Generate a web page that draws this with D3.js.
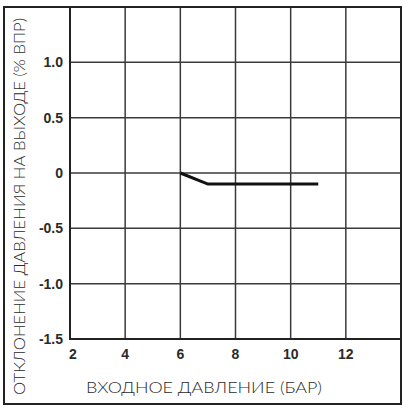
<!DOCTYPE html>
<html>
<head>
<meta charset="utf-8">
<script src="https://cdn.jsdelivr.net/npm/d3@7"></script>
<style>
  html, body { margin: 0; padding: 0; background: #fff; }
</style>
</head>
<body>
<div id="chart-region"></div>
<script>
const W = 405, H = 411;
const PLOT = {LEFT: 70, RIGHT: 401, TOP: 7, BOTTOM: 339};

// data
const xTicksVals = [2, 4, 6, 8, 10, 12];
const yTicksVals = [-1.5, -1.0, -0.5, 0, 0.5, 1.0];
const xLabels = ["2", "4", "6", "8", "10", "12"];
const yLabels = ["-1.5", "-1.0", "-0.5", "0", "0.5", "1.0"];
const inletPressure = [6, 7, 11];
const outletDeviation = [0, -0.1, -0.1];
const xTitle = "ВХОДНОЕ ДАВЛЕНИЕ (БАР)";
const yTitle = "ОТКЛОНЕНИЕ ДАВЛЕНИЯ НА ВЫХОДЕ (% ВПР)";

const svg = d3.select("#chart-region").append("svg")
    .attr("width", W)
    .attr("height", H);

const x = d3.scaleLinear().domain([2, 14]).range([PLOT.LEFT, PLOT.RIGHT]);
const y = d3.scaleLinear().domain([-1.5, 1.5]).range([PLOT.BOTTOM, PLOT.TOP]);

// grid
const grid = svg.append("g");
grid.selectAll("line.v")
    .data(xTicksVals.slice(1))
    .enter().append("line")
    .attr("x1", d => x(d)).attr("x2", d => x(d))
    .attr("y1", PLOT.TOP).attr("y2", PLOT.BOTTOM)
    .attr("stroke", "#3a3a3a")
    .attr("stroke-width", 1.5);
grid.selectAll("line.h")
    .data(yTicksVals.slice(1))
    .enter().append("line")
    .attr("x1", PLOT.LEFT).attr("x2", PLOT.RIGHT)
    .attr("y1", d => y(d)).attr("y2", d => y(d))
    .attr("stroke", "#3a3a3a")
    .attr("stroke-width", 1.5);

// axes lines
svg.append("line")
    .attr("x1", PLOT.LEFT).attr("x2", PLOT.LEFT)
    .attr("y1", PLOT.TOP).attr("y2", PLOT.BOTTOM + 1)
    .attr("stroke", "#222").attr("stroke-width", 2);
svg.append("line")
    .attr("x1", PLOT.LEFT - 1).attr("x2", PLOT.RIGHT)
    .attr("y1", PLOT.BOTTOM).attr("y2", PLOT.BOTTOM)
    .attr("stroke", "#222").attr("stroke-width", 2);

// outer frame
svg.append("rect")
    .attr("x", 4).attr("y", 7)
    .attr("width", PLOT.RIGHT - 4).attr("height", 404 - 7)
    .attr("fill", "none")
    .attr("stroke", "#222")
    .attr("stroke-width", 2);

// tick labels
svg.append("g").selectAll("text")
    .data(xTicksVals)
    .enter().append("text")
    .attr("x", d => x(d) + (d === 2 ? 3 : 0))
    .attr("y", 359)
    .attr("text-anchor", "middle")
    .attr("font-family", "Liberation Sans, Arial, sans-serif")
    .attr("font-weight", "bold")
    .attr("font-size", "14px")
    .attr("fill", "#2a2a2a")
    .text((d, i) => xLabels[i]);

svg.append("g").selectAll("text")
    .data(yTicksVals)
    .enter().append("text")
    .attr("x", 63)
    .attr("y", d => y(d) + 5)
    .attr("text-anchor", "end")
    .attr("font-family", "Liberation Sans, Arial, sans-serif")
    .attr("font-weight", "bold")
    .attr("font-size", "14px")
    .attr("fill", "#2a2a2a")
    .text((d, i) => yLabels[i]);

// axis titles
svg.append("text")
    .attr("x", 86)
    .attr("y", 393)
    .attr("font-family", "Lato, 'Open Sans', sans-serif")
    .attr("font-weight", 300)
    .attr("font-size", "15.5px")
    .attr("fill", "#2a2a2a")
    .attr("textLength", 236)
    .attr("lengthAdjust", "spacingAndGlyphs")
    .text(xTitle);

svg.append("text")
    .attr("transform", "translate(25, 395) rotate(-90)")
    .attr("font-family", "Lato, 'Open Sans', sans-serif")
    .attr("font-weight", 300)
    .attr("font-size", "15.5px")
    .attr("fill", "#2a2a2a")
    .attr("textLength", 377)
    .attr("lengthAdjust", "spacingAndGlyphs")
    .text(yTitle);

// series
const line = d3.line()
    .x((d, i) => x(inletPressure[i]))
    .y(d => y(d));

svg.append("path")
    .datum(outletDeviation)
    .attr("d", line)
    .attr("fill", "none")
    .attr("stroke", "#111")
    .attr("stroke-width", 3);
</script>
</body>
</html>
